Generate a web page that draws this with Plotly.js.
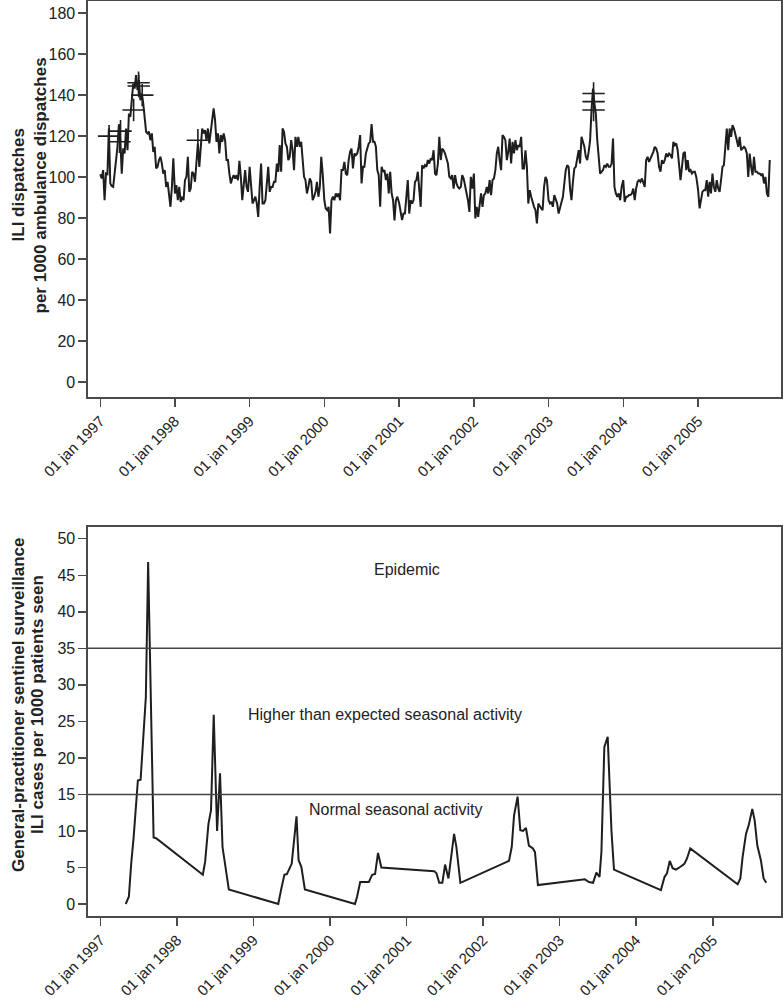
<!DOCTYPE html>
<html>
<head>
<meta charset="utf-8">
<script src="https://cdn.plot.ly/plotly-3.0.1.min.js"></script>
<style>html,body{margin:0;padding:0;background:#fff;}#chart{width:783px;height:1001px;}</style>
</head>
<body>
<div id="chart"></div>
<script>
// ---- Top panel: weekly ILI dispatches per 1000 ambulance dispatches (one array per year) ----
const amb1997 = [101.4, 99.3, 103.4, 88.7, 101.7, 101.4, 123.7, 96.9, 95.6, 95.2,
  101.7, 108.3, 114.8, 125.8, 118, 101.7, 114, 111.5, 123.7, 113.1,
  131, 129.4, 135.9, 145.6, 143.2, 149.7, 142.4, 147.3, 137.5, 140.8,
  135.9, 129.4, 122.1, 121.3, 122.1, 118, 121.3, 112.3, 114.8, 104.2,
  105, 108.3, 109.9, 106.6, 101.7, 103.4, 95.2, 97.7, 90.4, 85.5, 95.2, 109.1];
const amb1998 = [92, 96.1, 88.7, 95.2, 87.9, 90.4, 88.7, 98.5, 100.1, 109.9,
  92.8, 94.4, 102.6, 101.7, 97.7, 108.3, 116.4, 105, 116.4, 123.7,
  121.3, 122.9, 118, 123.7, 116.4, 121.3, 126.1, 133.5, 127.8, 117.2,
  121.3, 111.5, 120.5, 117.2, 121.3, 118, 108.3, 108.3, 101.7, 96.9,
  99.3, 100.9, 99.3, 100.9, 98.5, 107.9, 100.1, 88.7, 96.1, 103.4, 95.2, 92.8];
const amb1999 = [105, 93.6, 87.1, 88.7, 90.4, 87.1, 80.6, 95.2, 106.6, 87.1,
  87.1, 88.7, 96.9, 105, 92.8, 95.2, 95.2, 97.7, 97.7, 106.6,
  102.6, 115.6, 102.6, 123.7, 122.1, 116.4, 114.8, 108.3, 109.9, 118,
  113.1, 103.4, 119.6, 114.8, 119.6, 114.8, 117.2, 109.9, 100.1, 98.5,
  92, 95.2, 99.3, 97.7, 88.7, 90.4, 92.8, 97.7, 90.4, 95.2, 109.9, 101.7];
const amb2000 = [88.7, 84.7, 83.9, 85.5, 72.5, 88.7, 90.4, 88.7, 92, 90.4,
  92, 88.7, 103.4, 103.4, 107.4, 101.7, 100.9, 108.3, 112.3, 113.9,
  104.2, 111.5, 110.7, 111.5, 114.8, 120.5, 96.9, 105, 105, 111.5,
  114.8, 116.4, 117.2, 125.8, 117.2, 117.2, 114.8, 103.4, 100.9, 85.5,
  105, 102.6, 103.4, 98.5, 101.7, 92, 102.6, 92, 88.7, 78.8, 88.7, 90.4];
const amb2001 = [87.1, 82.2, 79, 82.2, 82.2, 90.4, 98.5, 82.2, 88.7, 87.1,
  88.7, 97.7, 98.5, 102.6, 95.2, 85.5, 105.8, 104.2, 105.8, 105,
  108.3, 106.6, 109.1, 108.3, 113.1, 101.7, 100.9, 106.6, 119.6, 108.3,
  113.9, 113.1, 111.5, 109.1, 106.6, 100.1, 99.3, 100.9, 94.4, 100.9,
  96.9, 95.2, 94.4, 95.2, 100.9, 99.3, 96.1, 93.6, 88.7, 83, 100.1, 94.4];
const amb2002 = [101.7, 79.8, 85.5, 80.6, 85.5, 92, 85.5, 91.2, 92, 95.2,
  92, 98.5, 91.2, 98.5, 99.3, 103.4, 111.5, 114.8, 108.3, 103.4,
  120.5, 119.6, 118, 108.3, 112.3, 118.8, 106.6, 117.2, 111.5, 118,
  113.1, 115.6, 114.8, 119.6, 104.2, 104.2, 113.1, 105, 87.1, 93.6,
  90.4, 87.1, 85.5, 83.9, 77.4, 87.1, 85.5, 84.7, 83.9, 95.2, 100.1, 98.5];
const amb2003 = [88.7, 87.1, 87.9, 85.5, 91.2, 89.6, 87.1, 82.2, 85.5, 88.7,
  90.4, 96.9, 103.4, 105.8, 105, 94.4, 88.7, 97.7, 104.2, 105,
  109.9, 113.1, 106.6, 119.6, 117.2, 114.8, 109.9, 108.3, 112.3, 118,
  132.6, 143.2, 135.9, 131, 118, 108.3, 101.7, 102.6, 103.4, 105.8,
  105, 106.6, 105, 105, 106.6, 118.8, 95.2, 92, 90.4, 92, 88.7, 95.2];
const amb2004 = [98.5, 87.9, 90.4, 90.4, 91.2, 91.2, 92, 94.4, 88.7, 94.4,
  97.7, 98.5, 97.7, 99.3, 97.7, 95.2, 108.3, 109.9, 107.4, 109.1,
  109.9, 112.3, 114.8, 113.9, 111.5, 105, 102.6, 108.3, 106.6, 108.3,
  111.5, 109.9, 111.5, 110.7, 109.1, 117.2, 115.6, 116.4, 113.1, 105,
  98.5, 105, 111.5, 112.3, 103.4, 108.3, 102.6, 103.4, 101.7, 102.6, 102.6, 100.1];
const amb2005 = [93.6, 84.7, 88.7, 92.8, 93.6, 93.6, 98.5, 90.4, 97.7, 92,
  101.7, 95.2, 92.8, 98.5, 94.4, 92.8, 98.5, 105, 105.8, 114.8,
  123.7, 113.1, 123.7, 119.6, 125.3, 123.7, 121.3, 118, 114.8, 119.6,
  113.1, 113.9, 114.8, 113.9, 111.5, 100.1, 111.5, 105, 100.9, 109.9,
  102.6, 102.6, 101.7, 101.7, 100.9, 101.7, 96.9, 100.1, 92, 90.4, 108.3];
const ambYears = [1997, 1998, 1999, 2000, 2001, 2002, 2003, 2004, 2005];

// Alarm markers ("+") on the top panel
const crossDates = ['1997-02-13', '1997-04-10', '1997-04-05', '1997-06-13', '1997-07-07', '1997-07-08', '1997-07-25', '1998-04-23', '2003-08-09', '2003-08-09', '2003-08-09'];
const crossValues = [120, 122.4, 117.2, 132.7, 146, 144.4, 140, 118, 140.8, 136.8, 132.7];

// ---- Bottom panel: GP sentinel surveillance, ILI cases per 1000 patients seen ----
const gpDates = ['1997-05-01','1997-05-16','1997-05-27','1997-06-08','1997-06-28','1997-07-11','1997-08-05','1997-08-16','1997-09-11','1997-09-23',
  '1998-05-04','1998-05-15','1998-05-31','1998-06-12','1998-06-25','1998-07-11','1998-07-25','1998-08-06','1998-09-05',
  '1999-04-29','1999-05-12','1999-05-28','1999-06-09','1999-07-02','1999-07-25','1999-08-04','1999-08-17','1999-09-03',
  '2000-04-29','2000-05-09','2000-05-24','2000-07-04','2000-07-20','2000-08-03','2000-08-17','2000-09-02',
  '2001-05-12','2001-05-23','2001-06-05','2001-06-20','2001-07-03','2001-07-19','2001-08-15','2001-08-26','2001-09-14',
  '2002-05-04','2002-05-17','2002-05-28','2002-06-14','2002-06-27','2002-07-10','2002-07-24','2002-08-07','2002-08-26','2002-09-05','2002-09-19',
  '2003-05-01','2003-05-20','2003-06-09','2003-06-25','2003-07-10','2003-07-19','2003-08-02','2003-08-18','2003-09-05','2003-09-17',
  '2004-04-28','2004-05-15','2004-05-27','2004-06-09','2004-06-23','2004-07-09','2004-07-30','2004-08-18','2004-08-30','2004-09-15',
  '2005-04-29','2005-05-12','2005-05-23','2005-06-08','2005-06-21','2005-07-08','2005-07-19','2005-08-01','2005-08-18','2005-08-31','2005-09-13'];
const gpValues = [0, 1, 5.5, 9.2, 16.9, 17, 28.3, 46.8, 9.1, 9,
  4, 5.8, 11, 12.8, 25.9, 10, 17.9, 7.8, 2,
  0, 1.9, 4, 4.1, 5.5, 12, 6, 5.1, 2,
  0, 1, 3, 3, 4, 4.1, 7, 5,
  4.5, 4.2, 2.9, 2.9, 5.4, 3.5, 9.6, 7.8, 2.9,
  5.9, 7.8, 12.1, 14.7, 10.1, 10, 10.4, 8, 7.6, 7.1, 2.6,
  3.4, 3, 2.9, 4.3, 3.7, 7.1, 21.5, 22.9, 10, 4.7,
  1.9, 3.7, 4.2, 5.9, 4.9, 4.7, 5.1, 5.5, 6.2, 7.6,
  2.7, 3.5, 6.5, 9.6, 10.8, 13, 11.5, 8, 6, 3.5, 2.9];
const thresholds = [15, 35];
const zoneLabels = ['Epidemic', 'Higher than expected seasonal activity', 'Normal seasonal activity'];
const zoneLabelDates = ['2001-01-04', '2000-09-21', '2000-11-08'];
const zoneLabelValues = [45.8, 25.9, 12.9];

// ---- Axis ticks ----
const tickDates = ['1997-01-01','1998-01-01','1999-01-01','2000-01-01','2001-01-01','2002-01-01','2003-01-01','2004-01-01','2005-01-01'];
const tickLabels = ['01 jan 1997','01 jan 1998','01 jan 1999','01 jan 2000','01 jan 2001','01 jan 2002','01 jan 2003','01 jan 2004','01 jan 2005'];
const ambTicks = [0, 20, 40, 60, 80, 100, 120, 140, 160, 180];
const gpTicks = [0, 5, 10, 15, 20, 25, 30, 35, 40, 45, 50];

// Build weekly dates per year
const ambSeries = [amb1997, amb1998, amb1999, amb2000, amb2001, amb2002, amb2003, amb2004, amb2005];
const ambX = [], ambY = [];
ambYears.forEach((yr, k) => {
  ambSeries[k].forEach((v, i) => {
    const d = new Date(Date.UTC(yr, 0, 1) + i * 7 * 86400000);
    ambX.push(d.toISOString().slice(0, 10));
    ambY.push(v);
  });
});

const INK = '#1e1e1e';
const AX = '#4a4a4a';
const FONT = 'Liberation Sans, Arial, Helvetica, sans-serif';

const traces = [
  {x: ambX, y: ambY, type: 'scatter', mode: 'lines', xaxis: 'x', yaxis: 'y',
   line: {color: INK, width: 2}, hoverinfo: 'skip'},
  {x: crossDates, y: crossValues, type: 'scatter', mode: 'markers', xaxis: 'x', yaxis: 'y',
   marker: {symbol: 'cross-thin', size: 16, line: {color: INK, width: 1.6}, color: INK}, hoverinfo: 'skip'},
  {x: gpDates, y: gpValues, type: 'scatter', mode: 'lines', xaxis: 'x2', yaxis: 'y2',
   line: {color: INK, width: 2}, hoverinfo: 'skip'}
];

const commonX = {
  type: 'date', tickvals: tickDates, ticktext: tickLabels, tickangle: -45,
  ticks: 'outside', ticklen: 8, tickwidth: 1.5, tickcolor: AX,
  showline: true, linecolor: AX, linewidth: 1.6, mirror: true,
  showgrid: false, zeroline: false, tickfont: {size: 15, color: '#222', family: FONT}
};
const commonY = {
  ticks: 'outside', ticklen: 8, tickwidth: 1.5, tickcolor: AX,
  showline: true, linecolor: AX, linewidth: 1.6, mirror: true,
  showgrid: false, zeroline: false, tickfont: {size: 16, color: '#222', family: FONT}
};

const shapes = thresholds.map(t => ({
  type: 'line', xref: 'x2 domain', x0: 0, x1: 1, yref: 'y2', y0: t, y1: t,
  line: {color: '#444', width: 1.5}
}));

const annotations = zoneLabels.map((txt, i) => ({
  text: txt, xref: 'x2', yref: 'y2', x: zoneLabelDates[i], y: zoneLabelValues[i],
  showarrow: false, xanchor: 'center', yanchor: 'middle',
  font: {size: 16, color: '#222', family: FONT}
}));

const titleLines = [
  {text: 'ILI dispatches', x: 18, y: 0.7984},
  {text: 'per 1000 ambulance dispatches', x: 40, y: 0.7984},
  {text: 'General-practitioner sentinel surveillance', x: 18, y: 0.2306},
  {text: 'ILI cases per 1000 patients seen', x: 37, y: 0.2306}
];
titleLines.forEach(t => annotations.push({
  text: '<b>' + t.text + '</b>', xref: 'paper', yref: 'paper',
  x: (t.x - 88) / 693, y: t.y, textangle: -90, showarrow: false,
  xanchor: 'center', yanchor: 'middle',
  font: {size: 17, color: '#222', family: FONT}
}));

const layout = {
  width: 783, height: 1001,
  margin: {l: 88, r: 2, t: 1, b: 85},
  paper_bgcolor: '#ffffff', plot_bgcolor: '#ffffff',
  showlegend: false,
  font: {family: FONT, size: 16, color: '#222'},
  xaxis: Object.assign({}, commonX, {anchor: 'y', domain: [0, 1], range: ['1996-11-02', '2006-02-10']}),
  yaxis: Object.assign({}, commonY, {anchor: 'x', domain: [0.5672, 1], range: [-7.3, 185.9], tickvals: ambTicks}),
  xaxis2: Object.assign({}, commonX, {anchor: 'y2', domain: [0, 1], range: ['1996-11-02', '2005-11-22']}),
  yaxis2: Object.assign({}, commonY, {anchor: 'x2', domain: [0, 0.4251], range: [-1.64, 51.6], tickvals: gpTicks}),
  shapes: shapes,
  annotations: annotations
};

Plotly.newPlot('chart', traces, layout, {staticPlot: true, displayModeBar: false});
</script>
</body>
</html>
